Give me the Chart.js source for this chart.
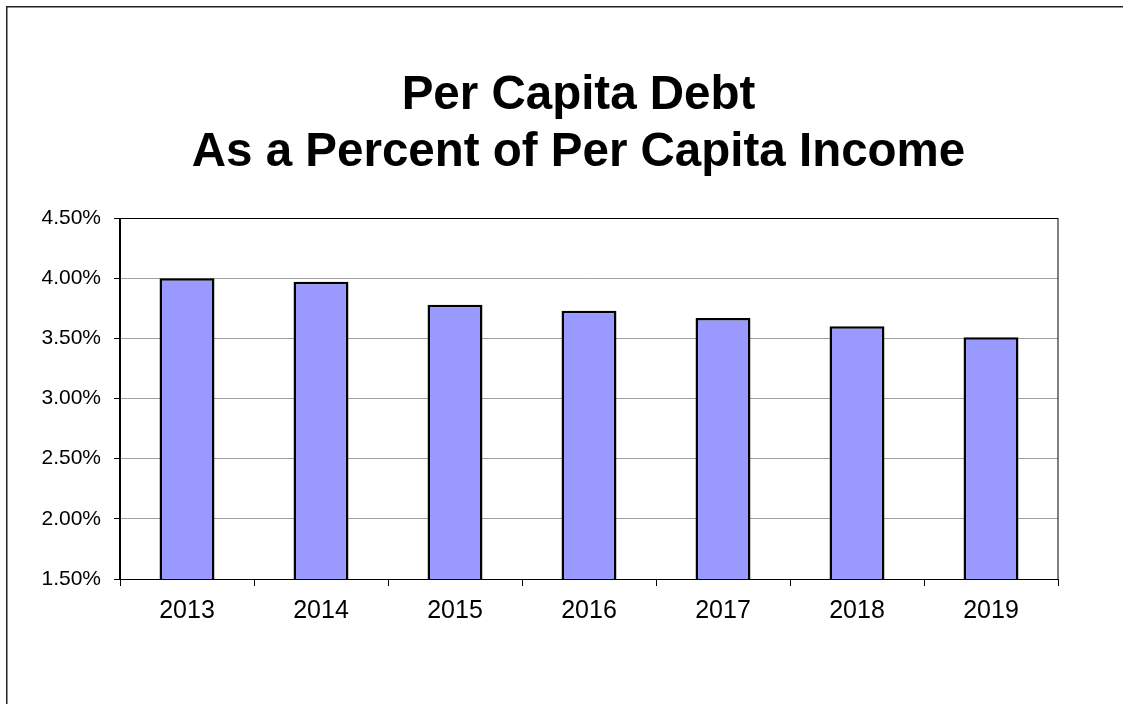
<!DOCTYPE html>
<html>
<head>
<meta charset="utf-8">
<title>Per Capita Debt</title>
<script src="https://cdn.jsdelivr.net/npm/chart.js@4/dist/chart.umd.min.js"></script>
<style>
  html, body { margin: 0; padding: 0; background: #fff; }
  canvas { display: block; }
</style>
</head>
<body>
<canvas id="chart" width="1123" height="704"></canvas>
<script>
const years = ["2013", "2014", "2015", "2016", "2017", "2018", "2019"];
const debtPct = [4.00, 3.97, 3.78, 3.73, 3.67, 3.60, 3.51];
const titleLines = ["Per Capita Debt", "As a Percent of Per Capita Income"];
const yMin = 1.5;
const yMax = 4.5;
const yStep = 0.5;

const fontFamily = '"Liberation Sans", Arial, sans-serif';
Chart.defaults.font.family = fontFamily;
Chart.defaults.color = "#000";

// page frame, two-line heading, and a box around the plot area
const frames = {
    id: "frames",
    beforeDraw(chart) {
        const ctx = chart.ctx;
        ctx.save();
        ctx.strokeStyle = "#222";
        ctx.lineWidth = 1.5;
        ctx.beginPath();
        ctx.moveTo(6.75, chart.height);
        ctx.lineTo(6.75, 6.75);
        ctx.lineTo(chart.width, 6.75);
        ctx.stroke();

        ctx.fillStyle = "#000";
        ctx.font = "bold 47.5px " + fontFamily;
        ctx.textAlign = "center";
        ctx.textBaseline = "alphabetic";
        ctx.fillText(titleLines[0], 578.5, 109);
        ctx.fillText(titleLines[1], 578.5, 166);
        ctx.restore();
    },
    afterDraw(chart) {
        const { left, top, right, bottom } = chart.chartArea;
        const ctx = chart.ctx;
        ctx.save();
        ctx.strokeStyle = "#000";
        ctx.lineWidth = 1;
        ctx.strokeRect(Math.round(left) - 0.5, Math.round(top) + 0.5,
            Math.round(right - left) + 0.5, Math.round(bottom - top));
        ctx.restore();
    }
};

new Chart(document.getElementById("chart"), {
    type: "bar",
    data: {
        labels: years,
        datasets: [{
            data: debtPct,
            backgroundColor: "#9999FF",
            borderColor: "#000",
            borderWidth: 2.5,
            categoryPercentage: 1,
            barPercentage: 0.41
        }]
    },
    options: {
        responsive: false,
        animation: false,
        devicePixelRatio: 1,
        layout: { padding: { left: 0, right: 65, top: 218, bottom: 0 } },
        plugins: {
            legend: { display: false },
            tooltip: { enabled: false },
            title: { display: false }
        },
        scales: {
            x: {
                afterFit(scale) { scale.height = 125; },
                grid: {
                    offset: true,
                    drawOnChartArea: false,
                    tickLength: 7,
                    tickColor: "#000"
                },
                border: { color: "#000" },
                ticks: { padding: 10, font: { size: 25 } }
            },
            y: {
                min: yMin,
                max: yMax,
                afterFit(scale) { scale.width = 120; },
                grid: {
                    color: "#a0a0a0",
                    tickLength: 6,
                    tickColor: "#000"
                },
                border: { color: "#000" },
                ticks: {
                    stepSize: yStep,
                    padding: 13,
                    font: { size: 21 },
                    callback: (v) => v.toFixed(2) + "%"
                }
            }
        }
    },
    plugins: [frames]
});
</script>
</body>
</html>
